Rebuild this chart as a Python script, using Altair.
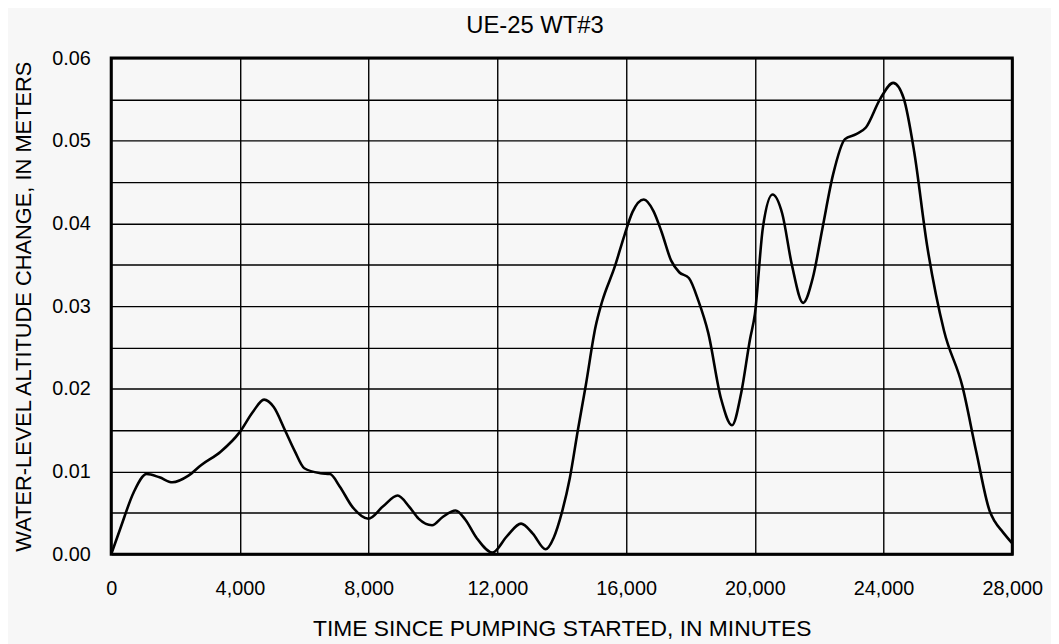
import altair as alt
import pandas as pd

time_min = [0, 300, 700, 1100, 1500, 1900, 2400, 2800, 3400, 4000, 4400, 4750, 5050,
            5400, 5700, 6000, 6500, 6800, 7100, 7500, 7990, 8450, 8900, 9250, 9550,
            9970, 10300, 10700, 11000, 11350, 11850, 12300, 12735, 13100, 13500, 13750,
            14000, 14250, 14500, 14750, 15050, 15250, 15650, 15950, 16200, 16550, 16850,
            17100, 17400, 17650, 17950, 18250, 18550, 18950, 19290, 19580, 19850, 20000,
            20250, 20550, 20850, 21150, 21500, 21800, 22100, 22430, 22800, 23150, 23450,
            23900, 24300, 24620, 24950, 25350, 25880, 26450, 26880, 27300, 27450, 27700,
            28000]
change_m = [0.0000, 0.0033, 0.0075, 0.0097, 0.0093, 0.0087, 0.0095, 0.0108, 0.0124,
            0.0148, 0.0172, 0.0187, 0.0178, 0.0150, 0.0125, 0.0104, 0.0098, 0.0097,
            0.0082, 0.0057, 0.0043, 0.0058, 0.0071, 0.0058, 0.0043, 0.0035, 0.0045,
            0.0053, 0.0042, 0.0020, 0.0002, 0.0022, 0.0037, 0.0025, 0.0006, 0.0020,
            0.0050, 0.0092, 0.0150, 0.0205, 0.0275, 0.0305, 0.0348, 0.0386, 0.0414,
            0.0429, 0.0415, 0.0390, 0.0355, 0.0341, 0.0334, 0.0306, 0.0268, 0.0188,
            0.0156, 0.0196, 0.0260, 0.0290, 0.0395, 0.0435, 0.0412, 0.0350, 0.0304,
            0.0334, 0.0394, 0.0459, 0.0502, 0.0508, 0.0516, 0.0551, 0.0570, 0.0552,
            0.0487, 0.0374, 0.0270, 0.0203, 0.0124, 0.0052, 0.0040, 0.0027, 0.0013]

x_ticks = [0, 4000, 8000, 12000, 16000, 20000, 24000, 28000]
y_grid = [0.0, 0.005, 0.01, 0.015, 0.02, 0.025, 0.03, 0.035, 0.04, 0.045, 0.05, 0.055, 0.06]

df = pd.DataFrame({"t": time_min, "h": change_m})

FONT = "Liberation Sans"

chart = alt.Chart(df).mark_line(
    color="black", strokeWidth=2.6, interpolate="monotone"
).encode(
    x=alt.X("t:Q", scale=alt.Scale(domain=[0, 28000], nice=False, zero=False),
            axis=alt.Axis(values=x_ticks, format=",d", title="TIME SINCE PUMPING STARTED, IN MINUTES",
                          grid=True, gridColor="black", gridWidth=1.4, gridOpacity=1,
                          domain=False, ticks=False, labelPadding=25, labelFontSize=20,
                          labelColor="black", labelFont=FONT, titleFont=FONT, titleFontSize=23,
                          titleFontWeight="normal", titleColor="black", titlePadding=19,
                          labelFlush=False)),
    y=alt.Y("h:Q", scale=alt.Scale(domain=[0, 0.06], nice=False, zero=False),
            axis=alt.Axis(values=y_grid,
                          labelExpr="round(datum.value*1000) % 10 == 0 ? format(datum.value, '.2f') : ''",
                          title="WATER-LEVEL ALTITUDE CHANGE, IN METERS",
                          grid=True, gridColor="black", gridWidth=1.4, gridOpacity=1,
                          domain=False, ticks=False, labelPadding=21, labelFontSize=20,
                          labelColor="black", labelFont=FONT, titleFont=FONT, titleFontSize=22,
                          titleFontWeight="normal", titleColor="black", titleX=-81,
                          titleBaseline="alphabetic", labelFlush=False)),
).properties(
    width=908,
    height=500,
    title=alt.TitleParams("UE-25 WT#3", fontSize=24, font=FONT, fontWeight="normal",
                          color="black", offset=10, dx=-27, anchor="middle"),
    padding={"left": 104, "top": 48, "right": 39, "bottom": 88},
    autosize=alt.AutoSizeParams(type="none"),
).configure(
    background="#f7f7f7",
).configure_view(
    stroke="black", strokeWidth=3,
)

chart.save("out.html", embed_options={"renderer": "svg", "actions": False})
